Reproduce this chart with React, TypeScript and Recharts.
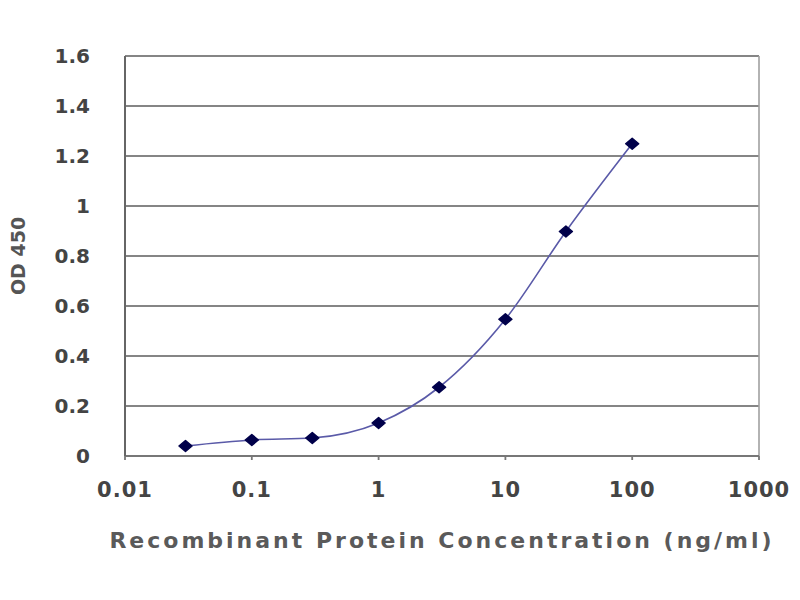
import React from 'react';
import { LineChart, Line, XAxis, YAxis, CartesianGrid, ReferenceLine } from 'recharts';

const concentrations = [0.03, 0.1, 0.3, 1, 3, 10, 30, 100];
const od450 = [0.04, 0.064, 0.072, 0.132, 0.275, 0.547, 0.898, 1.249];
const xTicks = [0.01, 0.1, 1, 10, 100, 1000];
const xTickLabels = ['0.01', '0.1', '1', '10', '100', '1000'];
const yTicks = [0, 0.2, 0.4, 0.6, 0.8, 1, 1.2, 1.4, 1.6];
const yTickLabels = ['0', '0.2', '0.4', '0.6', '0.8', '1', '1.2', '1.4', '1.6'];
const xTitle = 'Recombinant Protein Concentration (ng/ml)';
const yTitle = 'OD 450';

const data = concentrations.map((c, i) => ({ x: c, y: od450[i] }));

const FONT = '"DejaVu Sans", Arial, sans-serif';

const Diamond = (props: any) => {
  const { cx, cy } = props;
  if (cx == null || cy == null) return null;
  return (
    <polygon
      points={`${cx - 6.5},${cy} ${cx},${cy - 5.5} ${cx + 6.5},${cy} ${cx},${cy + 5.5}`}
      fill="#00004a"
      stroke="#00004a"
      strokeWidth={1.5}
      strokeLinejoin="round"
    />
  );
};

const XTitle = (props: any) => {
  const { viewBox } = props;
  const cx = viewBox.x + viewBox.width / 2;
  return (
    <text x={cx} y={viewBox.y + 92} textAnchor="middle" fontFamily={FONT} fontWeight="bold" fontSize={22} fill="#5a5a5a" letterSpacing={3}>
      {xTitle}
    </text>
  );
};

const YTitle = (props: any) => {
  const { viewBox } = props;
  const cy = viewBox.y + viewBox.height / 2;
  const x = 18;
  return (
    <text x={x} y={cy} textAnchor="middle" dominantBaseline="central" transform={`rotate(-90 ${x} ${cy})`} fontFamily={FONT} fontWeight="bold" fontSize={19} fill="#555">
      {yTitle}
    </text>
  );
};

export default function App() {
  return (
    <div style={{ position: 'absolute', left: 0, top: 0, width: 800, height: 600, background: '#fff' }}>
      <LineChart width={800} height={600} data={data} margin={{ top: 56, right: 41, bottom: 44, left: 0 }}>
        <CartesianGrid vertical={false} horizontal stroke="#858585" strokeWidth={1.8} />
        <XAxis
          dataKey="x"
          type="number"
          scale="log"
          domain={[0.01, 1000]}
          ticks={xTicks}
          allowDataOverflow
          tickFormatter={(v: number) => xTickLabels[xTicks.indexOf(v)] ?? String(v)}
          tick={{ fontFamily: FONT, fontWeight: 'bold', fontSize: 21, fill: '#444', letterSpacing: 1 }}
          tickSize={4}
          tickMargin={22}
          height={100}
          stroke="#777"
          strokeWidth={1.8}
          label={<XTitle />}
        />
        <YAxis
          type="number"
          domain={[0, 1.6]}
          ticks={yTicks}
          tickFormatter={(v: number) => yTickLabels[yTicks.indexOf(v)] ?? String(v)}
          tick={{ fontFamily: FONT, fontWeight: 'bold', fontSize: 20, fill: '#444' }}
          tickSize={0}
          tickMargin={35}
          width={125}
          stroke="#666"
          strokeWidth={2}
          label={<YTitle />}
        />
        <ReferenceLine x={1000} stroke="#a0a0a0" strokeWidth={1.6} />
        <Line
          dataKey="y"
          type="monotone"
          stroke="#5a5aa8"
          strokeWidth={1.6}
          dot={<Diamond />}
          activeDot={false}
          isAnimationActive={false}
        />
      </LineChart>
    </div>
  );
}
